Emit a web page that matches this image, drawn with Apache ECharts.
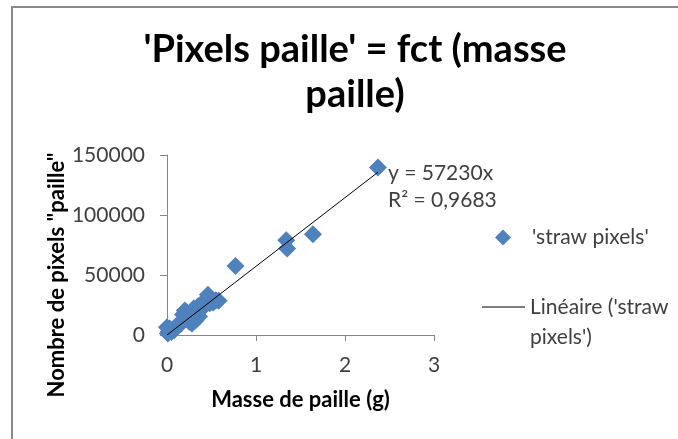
<!DOCTYPE html>
<html>
<head>
    <meta charset="utf-8">
    <title>Pixels paille</title>
    <script src="https://cdn.jsdelivr.net/npm/echarts@6/dist/echarts.min.js"></script>
    <style>
        html, body { margin: 0; padding: 0; background: #fff; }
        #chart { width: 678px; height: 439px; }
    </style>
</head>
<body>
<div id="chart"></div>
<script type="text/javascript">
    // masse de paille (g)
    var masse = [0.00, 0.01, 0.02, 0.03, 0.05, 0.08, 0.10, 0.12, 0.15, 0.18,
        0.20, 0.22, 0.24, 0.25, 0.27, 0.28, 0.30, 0.30, 0.32, 0.33,
        0.35, 0.35, 0.36, 0.38, 0.40, 0.40, 0.43, 0.45, 0.46, 0.48,
        0.50, 0.52, 0.55, 0.58, 0.77, 1.34, 1.35, 1.64, 2.37];
    // nombre de pixels "paille"
    var pixels = [6500, 1200, 3000, 5500, 2500, 4000, 7000, 8500, 9000, 17000,
        20500, 19000, 14000, 11000, 12500, 9500, 15000, 22000, 12000, 17500,
        24000, 19500, 15500, 21000, 27000, 23000, 25000, 30000, 33500, 26500,
        28000, 27000, 29000, 28500, 57500, 79000, 72000, 84000, 139500];
    // tendance linéaire y = 57230x
    var pente = 57230;
    var r2 = '0,9683';
    var xTicks = [0, 1, 2, 3];
    var yTicks = [0, 50000, 100000, 150000];

    var points = [];
    for (var i = 0; i < masse.length; i++) {
        points.push([masse[i], pixels[i]]);
    }
    var xMin = Math.min.apply(null, masse);
    var xMax = Math.max.apply(null, masse);
    var trend = [[xMin, pente * xMin], [xMax, pente * xMax]];

    var font = 'Lato, "Open Sans", sans-serif';
    var nomLineaire = "Linéaire ('straw\npixels')";
    var chart = echarts.init(document.getElementById('chart'));
    var option = {
        animation: false,
        title: {
            text: "'Pixels paille' = fct (masse\npaille)",
            left: 350,
            top: 22,
            textAlign: 'center',
            textStyle: {
                fontFamily: font,
                fontWeight: 'bold',
                fontSize: 38,
                lineHeight: 45,
                color: '#000'
            }
        },
        grid: { left: 167, top: 155, width: 267, height: 180 },
        xAxis: {
            type: 'value',
            min: xTicks[0],
            max: xTicks[xTicks.length - 1],
            interval: 1,
            name: 'Masse de paille (g)',
            nameLocation: 'middle',
            nameGap: 54,
            nameTextStyle: { fontFamily: font, fontWeight: 'bold', fontSize: 22, color: '#000' },
            axisLine: { lineStyle: { color: '#868686' } },
            axisTick: { show: true, length: 6, lineStyle: { color: '#868686' } },
            axisLabel: { fontFamily: font, fontSize: 21, color: '#404040', margin: 20 },
            splitLine: { show: false }
        },
        yAxis: {
            type: 'value',
            min: yTicks[0],
            max: yTicks[yTicks.length - 1],
            interval: 50000,
            axisLine: { show: true, lineStyle: { color: '#868686' } },
            axisTick: { show: true, length: 7, lineStyle: { color: '#868686' } },
            axisLabel: {
                fontFamily: font, fontSize: 21, color: '#404040', margin: 22,
                formatter: function (v) { return String(v); }
            },
            splitLine: { show: false }
        },
        legend: [{
            data: [{ name: "'straw pixels'", icon: 'diamond' }],
            left: 490,
            top: 222,
            itemWidth: 16,
            itemHeight: 16,
            textStyle: { fontFamily: font, fontSize: 21, color: '#404040', padding: [0, 0, 0, 16] }
        }, {
            data: [{ name: nomLineaire, icon: 'rect' }],
            left: 477,
            top: 257,
            itemWidth: 43,
            itemHeight: 1,
            itemStyle: { color: '#000' },
            formatter: function (name) { return '\n' + name; },
            textStyle: { fontFamily: font, fontSize: 21, color: '#404040', lineHeight: 30 }
        }],
        graphic: [{
            type: 'rect',
            shape: { x: 12, y: 7, width: 700, height: 460 },
            style: { fill: 'none', stroke: '#8a8a8a', lineWidth: 2 },
            silent: true
        }, {
            type: 'text',
            x: 57,
            y: 275,
            rotation: Math.PI / 2,
            style: {
                text: 'Nombre de pixels "paille"',
                font: 'bold 22px ' + font,
                fill: '#000',
                align: 'center',
                verticalAlign: 'middle'
            }
        }, {
            type: 'text',
            left: 388,
            top: 160,
            style: {
                text: 'y = ' + pente + 'x\nR² = ' + r2,
                font: '21px ' + font,
                lineHeight: 27,
                fill: '#404040'
            }
        }],
        series: [{
            name: "'straw pixels'",
            type: 'scatter',
            symbol: 'diamond',
            symbolSize: 18,
            itemStyle: { color: '#4f81bd', opacity: 1 },
            data: points
        }, {
            name: nomLineaire,
            type: 'line',
            symbol: 'none',
            lineStyle: { color: '#000', width: 1 },
            itemStyle: { color: '#000' },
            data: trend
        }]
    };
    chart.setOption(option);
</script>
</body>
</html>
